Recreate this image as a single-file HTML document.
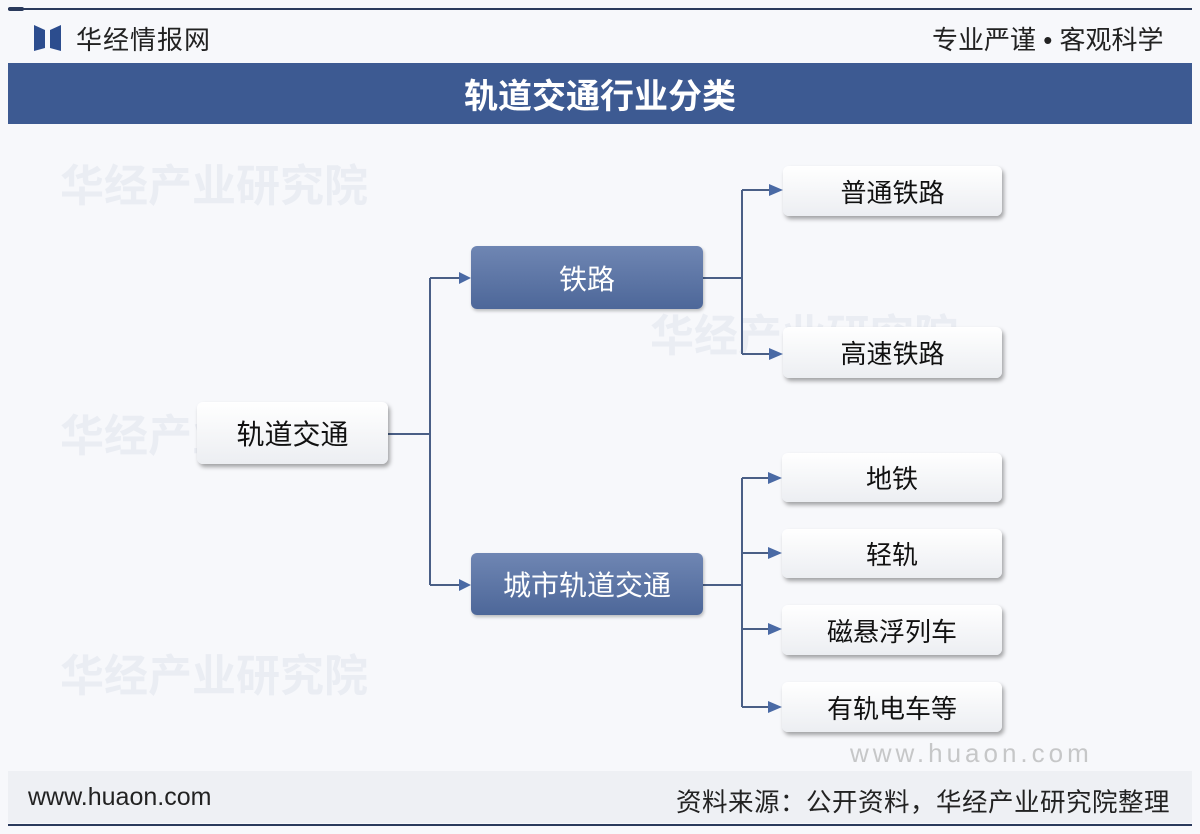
<!DOCTYPE html>
<html><head><meta charset="utf-8"><style>
*{margin:0;padding:0;box-sizing:border-box}
body{width:1200px;height:834px;background:#f7f8fb;position:relative;overflow:hidden;font-family:"Liberation Sans","Noto Sans CJK SC",sans-serif}
.abs{position:absolute}
.box{position:absolute;display:flex;align-items:center;justify-content:center;border-radius:6px;font-size:28px;color:#111}
.w{background:linear-gradient(#ffffff,#eceef2);box-shadow:2px 3px 4px rgba(0,0,0,.35)}
.b{background:linear-gradient(#6f86b3,#4d6799);color:#fff;box-shadow:1px 2px 3px rgba(0,0,0,.25)}
.wm{position:absolute;color:rgba(180,190,210,.18);font-size:44px;font-weight:bold}
</style></head><body>
<div class="abs" style="left:8px;top:8px;width:1184px;height:2px;background:#2a3a5c"></div>
<div class="abs" style="left:8px;top:7px;width:16px;height:4px;background:#2a3a5c;border-radius:2px"></div>
<svg class="abs" style="left:34px;top:25px" width="28" height="26"><polygon points="0,0 11,5 11,23 0,26" fill="#2c4d8e"/><polygon points="27,0 16,5 16,23 27,26" fill="#2c4d8e"/></svg>
<div class="abs" style="left:76px;top:20px;font-size:26px;color:#222;letter-spacing:1px">华经情报网</div>
<div class="abs" style="left:932px;top:20px;font-size:26px;color:#222">专业严谨 • 客观科学</div>
<div class="abs" style="left:8px;top:63px;width:1184px;height:61px;background:#3d5a92;color:#fff;font-size:34px;font-weight:bold;display:flex;align-items:center;justify-content:center">轨道交通行业分类</div>
<div class="wm" style="left:60px;top:150px">华经产业研究院</div>
<div class="wm" style="left:60px;top:400px">华经产业研究院</div>
<div class="wm" style="left:60px;top:640px">华经产业研究院</div>
<div class="wm" style="left:650px;top:300px">华经产业研究院</div>
<svg class="abs" style="left:0;top:0" width="1200" height="834">
<g stroke="#4a5f86" stroke-width="2" fill="none">
<path d="M388 434H430M430 278V585M430 278H462M430 585H462"/>
<path d="M703 278H742M742 190V354M742 190H773M742 354H773"/>
<path d="M703 585H742M742 478V707M742 478H772M742 553H772M742 629H772M742 707H772"/>
</g>
<g fill="#4a6aa5">
<polygon points="471,278 459,272 459,284"/><polygon points="471,585 459,579 459,591"/>
<polygon points="783,190 769,184 769,196"/><polygon points="783,354 769,348 769,360"/>
<polygon points="782,478 768,472 768,484"/><polygon points="782,553 768,547 768,559"/>
<polygon points="782,629 768,623 768,635"/><polygon points="782,707 768,701 768,713"/>
</g></svg>
<div class="box w" style="left:197px;top:402px;width:191px;height:62px">轨道交通</div>
<div class="box b" style="left:471px;top:246px;width:232px;height:63px">铁路</div>
<div class="box b" style="left:471px;top:553px;width:232px;height:62px">城市轨道交通</div>
<div class="box w" style="left:783px;top:166px;width:219px;height:50px;font-size:26px">普通铁路</div>
<div class="box w" style="left:783px;top:327px;width:219px;height:51px;font-size:26px">高速铁路</div>
<div class="box w" style="left:782px;top:453px;width:220px;height:49px;font-size:26px">地铁</div>
<div class="box w" style="left:782px;top:529px;width:220px;height:49px;font-size:26px">轻轨</div>
<div class="box w" style="left:782px;top:605px;width:220px;height:50px;font-size:26px">磁悬浮列车</div>
<div class="box w" style="left:782px;top:682px;width:220px;height:50px;font-size:26px">有轨电车等</div>
<div class="abs" style="left:850px;top:738px;font-size:26px;color:rgba(150,150,150,.5);letter-spacing:4px">www.huaon.com</div>
<div class="abs" style="left:8px;top:771px;width:1184px;height:52px;background:#eef0f4"></div>
<div class="abs" style="left:28px;top:783px;font-size:25px;color:#222">www.huaon.com</div>
<div class="abs" style="left:676px;top:782px;font-size:25.5px;color:#222;letter-spacing:0.5px">资料来源：公开资料，华经产业研究院整理</div>
<div class="abs" style="left:8px;top:824px;width:1184px;height:2px;background:#2a3a5c"></div>
</body></html>
